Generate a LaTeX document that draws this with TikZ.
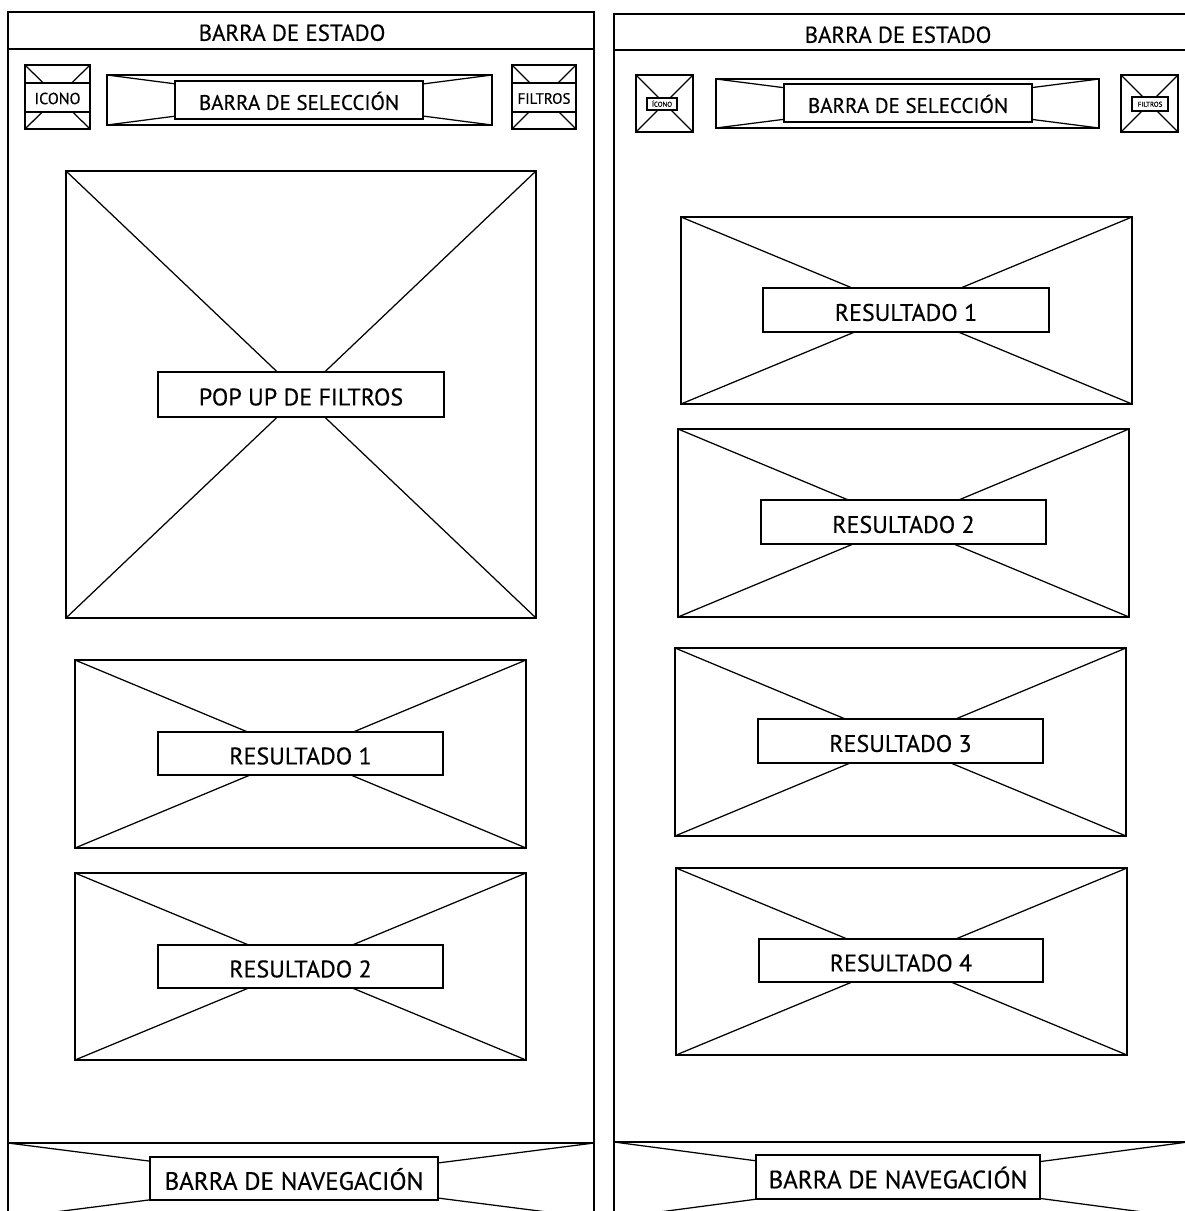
\documentclass[tikz,border=0pt]{standalone}
\usepackage{fontspec}
\setmainfont{PT Sans}[FakeBold=0.4]
% crossed placeholder box: name, centre x, centre y, width, height
\newcommand\wfcross[6][]{%
  \node[ph, minimum width=#5pt, minimum height=#6pt, #1] (#2) at (#3,#4) {};
  \draw[xline] (#2.north west) -- (#2.south east)
               (#2.north east) -- (#2.south west);}
% white label box laid over a placeholder: name, centre x, centre y, width, height, text
\newcommand\wflabel[7][]{%
  \node[lbl, minimum width=#5pt, minimum height=#6pt, #1] (#2) at (#3,#4) {#7};}
\begin{document}
\begin{tikzpicture}[x=1pt,y=-1pt,
  phone/.style={draw, line width=2.6pt, inner sep=0pt, outer sep=0pt},
  statusbar/.style={draw, line width=2.2pt, inner sep=0pt, outer sep=0pt},
  ph/.style={draw, line width=1.3pt, inner sep=0pt, outer sep=0pt},
  xline/.style={line width=1.25pt},
  lbl/.style={draw, fill=white, line width=1.3pt, inner sep=0pt, outer sep=0pt, t24},
  plain/.style={inner sep=0pt, outer sep=0pt},
  % font sizes; text height = cap height plus a little, so capitals sit just below centre
  t25/.style={font=\fontsize{25}{25}\selectfont, text height=22.5pt, text depth=0pt},
  t24/.style={font=\fontsize{24}{24}\selectfont, text height=21.8pt, text depth=0pt},
  t23/.style={font=\fontsize{23}{23}\selectfont, text height=19.6pt, text depth=0pt},
  t21/.style={font=\fontsize{21}{21}\selectfont, text height=19.7pt, text depth=0pt},
  t16/.style={font=\fontsize{16}{16}\selectfont, text height=13.2pt, text depth=0pt},
  t15/.style={font=\fontsize{15}{15}\selectfont, text height=12.5pt, text depth=0pt},
  t7/.style={font=\fontsize{7}{7}\selectfont, text height=5.4pt, text depth=0pt},
]
\fill[white] (0,0) rectangle (1185,1211);
\useasboundingbox (0,0) rectangle (1185,1211);

% ---------- left screen: filter pop-up open ----------
\node[phone, minimum width=586pt, minimum height=1206pt] (lphone) at (301,615) {};
\node[statusbar, minimum width=586pt, minimum height=37pt] (lstatus) at (301,30.5) {};
\node[plain, t23] (lstatustxt) at (292,31) {BARRA DE ESTADO};

\wfcross{licon}{57.5}{97}{65}{64}
\wflabel[t16]{liconlbl}{57.5}{97.5}{65}{29}{ICONO}
\wfcross{lsel}{299.5}{100}{385}{50}
\wflabel[t21]{lsellbl}{299}{100}{248}{38}{BARRA DE SELECCIÓN}
\wfcross{lfilt}{544}{97}{64}{64}
\wflabel[t15]{lfiltlbl}{544}{97.5}{64}{29}{FILTROS}

\wfcross{lpop}{301}{394.5}{470}{447}
\wflabel{lpoplbl}{301}{394.5}{286}{45}{POP UP DE FILTROS}

\wfcross{lres1}{300.5}{754}{451}{188}
\wflabel{lres1lbl}{300.5}{753.5}{285}{43}{RESULTADO 1}
\wfcross{lres2}{300.5}{966.5}{451}{187}
\wflabel{lres2lbl}{300.5}{966.5}{285}{43}{RESULTADO 2}

\wfcross{lnav}{301}{1180.5}{586}{75}
\wflabel[t25]{lnavlbl}{294}{1178.5}{288}{43}{BARRA DE NAVEGACIÓN}

% ---------- right screen: result list ----------
\node[phone, minimum width=574pt, minimum height=1204pt] (rphone) at (901,616) {};
\node[statusbar, minimum width=574pt, minimum height=36pt] (rstatus) at (901,32) {};
\node[plain, t23] (rstatustxt) at (898,33) {BARRA DE ESTADO};

\wfcross{ricon}{664.5}{103.5}{57}{57}
\wflabel[t7]{riconlbl}{662}{104}{30}{12}{ÍCONO}
\wfcross{rsel}{907.5}{103.5}{383}{49}
\wflabel[t21]{rsellbl}{908}{103}{248}{38}{BARRA DE SELECCIÓN}
\wfcross{rfilt}{1149.5}{103.5}{57}{57}
\wflabel[t7]{rfiltlbl}{1150}{104}{36}{14}{FILTROS}

\wfcross{rres1}{906.5}{310.5}{451}{187}
\wflabel{rres1lbl}{906}{310}{286}{44}{RESULTADO 1}
\wfcross{rres2}{903.5}{523}{451}{188}
\wflabel{rres2lbl}{903.5}{522}{285}{44}{RESULTADO 2}
\wfcross{rres3}{900.5}{742}{451}{188}
\wflabel{rres3lbl}{900.5}{741}{285}{44}{RESULTADO 3}
\wfcross{rres4}{901.5}{961.5}{451}{187}
\wflabel{rres4lbl}{901}{960.5}{284}{43}{RESULTADO 4}

\wfcross{rnav}{901}{1180}{574}{76}
\wflabel[t25]{rnavlbl}{898}{1177}{284}{44}{BARRA DE NAVEGACIÓN}
\end{tikzpicture}
\end{document}
